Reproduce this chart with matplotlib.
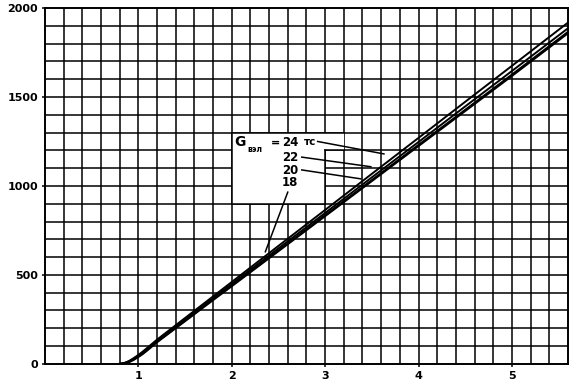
import matplotlib
matplotlib.use("Agg")
import matplotlib.pyplot as plt
from matplotlib.patches import Rectangle

# ---- data ----
x24 = [0.79, 0.85, 0.90, 0.95, 1.00, 1.05, 1.10, 1.20, 1.40, 1.60, 1.80, 2.00, 2.50, 3.00, 3.50, 4.00, 4.50, 5.00, 5.60]
y24 = [0, 5, 16, 32, 50, 70, 92, 136, 217, 298, 379, 460, 663, 865, 1068, 1270, 1473, 1675, 1918]
x22 = [0.80, 0.85, 0.90, 0.95, 1.00, 1.05, 1.10, 1.20, 1.40, 1.60, 1.80, 2.00, 2.50, 3.00, 3.50, 4.00, 4.50, 5.00, 5.60]
y22 = [0, 4, 13, 28, 45, 65, 86, 130, 210, 290, 369, 449, 649, 848, 1048, 1247, 1447, 1646, 1886]
x20 = [0.81, 0.85, 0.90, 0.95, 1.00, 1.05, 1.10, 1.20, 1.40, 1.60, 1.80, 2.00, 2.50, 3.00, 3.50, 4.00, 4.50, 5.00, 5.60]
y20 = [0, 3, 11, 25, 41, 60, 81, 125, 204, 283, 362, 441, 638, 836, 1033, 1231, 1428, 1626, 1866]
x18 = [0.82, 0.85, 0.90, 0.95, 1.00, 1.05, 1.10, 1.20, 1.40, 1.60, 1.80, 2.00, 2.50, 3.00, 3.50, 4.00, 4.50, 5.00, 5.60]
y18 = [0, 2, 9, 22, 38, 56, 77, 121, 200, 279, 358, 436, 633, 830, 1027, 1224, 1421, 1618, 1858]

x_ticks = [1, 2, 3, 4, 5]
y_ticks = [0, 500, 1000, 1500, 2000]
labels = ["24", "22", "20", "18"]

fig = plt.figure(figsize=(5.76, 3.83), dpi=100)
ax = fig.add_axes([0.078, 0.050, 0.908, 0.929])
ax.set_xlim(0, 5.6)
ax.set_ylim(0, 2000)

# grid
gx = [i * 0.2 for i in range(1, 28)]
gy = [i * 100 for i in range(1, 20)]
for v in gx:
    ax.axvline(v, color="black", lw=1.1, zorder=1)
for v in gy:
    ax.axhline(v, color="black", lw=1.1, zorder=1)

for s in ax.spines.values():
    s.set_linewidth(1.4)
    s.set_zorder(5)

# white label box
ax.add_patch(Rectangle((2.0, 900), 1.0, 400, facecolor="white", edgecolor="none", zorder=2))
ax.add_patch(Rectangle((3.0, 1200), 0.2, 100, facecolor="white", edgecolor="none", zorder=2))
ax.plot([2.0, 3.2], [1300, 1300], color="black", lw=1.1, zorder=2.5)
ax.plot([2.0, 3.0], [900, 900], color="black", lw=1.1, zorder=2.5)
ax.plot([2.0, 2.0], [900, 1300], color="black", lw=1.1, zorder=2.5)
ax.plot([3.0, 3.0], [900, 1200], color="black", lw=1.1, zorder=2.5)
ax.plot([3.0, 3.2], [1200, 1200], color="black", lw=1.1, zorder=2.5)

# curves
for xs, ys in [(x24, y24), (x22, y22), (x20, y20), (x18, y18)]:
    ax.plot(xs, ys, color="black", lw=1.4, zorder=3, solid_capstyle="butt")

# labels
fnt = dict(family="DejaVu Sans", fontweight="bold", color="black", zorder=4)
ax.text(2.03, 1245, "G", fontsize=10, va="center", ha="left", **fnt)
ax.text(2.17, 1205, "вэл", fontsize=5.5, va="center", ha="left", **fnt)
ax.text(2.42, 1245, "=", fontsize=8, va="center", ha="left", **fnt)
ax.text(2.54, 1245, labels[0], fontsize=8.5, va="center", ha="left", **fnt)
ax.text(2.77, 1248, "тс", fontsize=7.5, va="center", ha="left", **fnt)
ax.text(2.54, 1160, labels[1], fontsize=8.5, va="center", ha="left", **fnt)
ax.text(2.54, 1088, labels[2], fontsize=8.5, va="center", ha="left", **fnt)
ax.text(2.54, 1018, labels[3], fontsize=8.5, va="center", ha="left", **fnt)

# leader lines
ax.plot([2.92, 3.63], [1250, 1180], color="black", lw=1.1, zorder=4)
ax.plot([2.75, 3.49], [1162, 1108], color="black", lw=1.1, zorder=4)
ax.plot([2.75, 3.38], [1090, 1040], color="black", lw=1.1, zorder=4)
ax.plot([2.60, 2.36], [965, 630], color="black", lw=1.1, zorder=4)

ax.set_xticks(x_ticks)
ax.set_yticks(y_ticks)
ax.set_xticklabels([str(t) for t in x_ticks], fontsize=8, fontweight="bold")
ax.set_yticklabels([str(t) for t in y_ticks], fontsize=8, fontweight="bold")
ax.tick_params(axis="both", length=2, width=1.1, direction="out", pad=3)

fig.savefig("out.png", dpi=100, facecolor="white")
